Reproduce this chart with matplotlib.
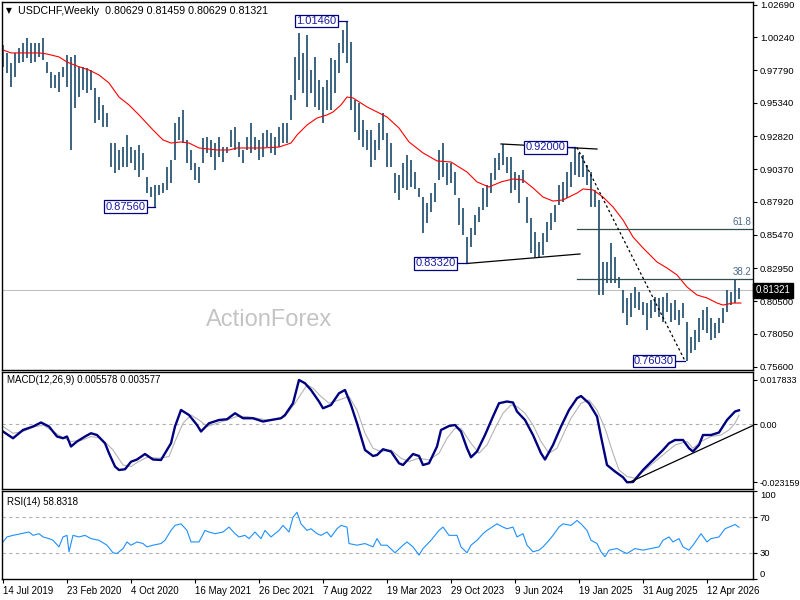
import numpy as np
import matplotlib
matplotlib.use("Agg")
import matplotlib.pyplot as plt
import matplotlib.transforms as mtransforms

plt.rcParams['font.family'] = ['Liberation Sans', 'DejaVu Sans']

# weekly bars, one every two weeks of the axis
bar_week = list(range(0, 370, 2))
highs = [
    0.9966, 0.9907, 0.9832, 0.9907, 0.9944, 0.9981, 1.0019, 0.9981, 0.9981, 0.9981,
    1.0019, 0.9839, 0.9764, 0.9742, 0.9764, 0.9802, 0.9892, 0.9877, 0.9892, 0.9802,
    0.9802, 0.9794, 0.9779, 0.9645, 0.9577, 0.9518, 0.9458, 0.9233, 0.9233, 0.9181,
    0.9203, 0.9293, 0.9203, 0.9181, 0.9218, 0.9159, 0.8979, 0.8904, 0.8919, 0.8919,
    0.8934, 0.9054, 0.9106, 0.9383, 0.9428, 0.9480, 0.9256, 0.9181, 0.9084, 0.9054,
    0.9271, 0.9278, 0.9256, 0.9233, 0.9278, 0.9203, 0.9203, 0.9331, 0.9353, 0.9241,
    0.9181, 0.9278, 0.9383, 0.9278, 0.9256, 0.9308, 0.9331, 0.9308, 0.9278, 0.9353,
    0.9383, 0.9383, 0.9592, 0.9877, 1.0056, 0.9907, 1.0041, 0.9779, 0.9877, 0.9705,
    0.9652, 0.9705, 0.9869, 0.9854, 0.9981, 1.0079, 1.0146, 0.9989, 0.9555, 0.9533,
    0.9405, 0.9331, 0.9331, 0.9256, 0.9383, 0.9458, 0.9308, 0.9233, 0.9009, 0.8994,
    0.9084, 0.9144, 0.9106, 0.9016, 0.8897, 0.8829, 0.8785, 0.8859, 0.8934, 0.9181,
    0.9233, 0.9084, 0.9084, 0.9016, 0.8822, 0.8747, 0.8530, 0.8598, 0.8695, 0.8755,
    0.8897, 0.8919, 0.9009, 0.9121, 0.9159, 0.9226, 0.9129, 0.9129, 0.9016, 0.8994,
    0.9031, 0.8829, 0.8672, 0.8568, 0.8493, 0.8560, 0.8642, 0.8710, 0.8770, 0.8919,
    0.8942, 0.9016, 0.9091, 0.9200, 0.9159, 0.9144, 0.9069,
    0.9016, 0.8882, 0.8807, 0.8343, 0.8343, 0.8485, 0.8381, 0.8231, 0.8134, 0.8074,
    0.8111, 0.8156, 0.8119, 0.8044, 0.8037, 0.8059, 0.8081, 0.8074, 0.8081, 0.8111,
    0.8037, 0.8059, 0.7984, 0.8037, 0.7894, 0.7782, 0.7835, 0.7924, 0.7984, 0.8007,
    0.7924, 0.7887, 0.7924, 0.7999, 0.8134, 0.8119, 0.8208, 0.81459,
]
lows = [
    0.9802, 0.9757, 0.9652, 0.9727, 0.9832, 0.9839, 0.9869, 0.9832, 0.9839, 0.9877,
    0.9854, 0.9757, 0.9645, 0.9645, 0.9615, 0.9727, 0.9652, 0.9181, 0.9495, 0.9577,
    0.9630, 0.9607, 0.9630, 0.9383, 0.9405, 0.9353, 0.9353, 0.9054, 0.9009, 0.9031,
    0.9054, 0.9054, 0.9084, 0.9031, 0.8979, 0.9031, 0.8859, 0.8829, 0.8756, 0.8844,
    0.8859, 0.8882, 0.8934, 0.9106, 0.9256, 0.9233, 0.9084, 0.9031, 0.8957, 0.8934,
    0.9084, 0.9159, 0.9129, 0.9031, 0.9129, 0.9091, 0.9159, 0.9203, 0.9181, 0.9129,
    0.9084, 0.9181, 0.9159, 0.9181, 0.9106, 0.9129, 0.9203, 0.9159, 0.9144, 0.9203,
    0.9233, 0.9233, 0.9405, 0.9555, 0.9705, 0.9607, 0.9503, 0.9607, 0.9503, 0.9480,
    0.9383, 0.9480, 0.9480, 0.9607, 0.9757, 0.9907, 0.9832, 0.9480, 0.9316, 0.9256,
    0.9203, 0.9181, 0.9054, 0.9106, 0.9181, 0.9256, 0.9054, 0.9054, 0.8859, 0.8807,
    0.8897, 0.8882, 0.8904, 0.8889, 0.8829, 0.8560, 0.8635, 0.8717, 0.8792, 0.8957,
    0.8979, 0.8919, 0.8934, 0.8844, 0.8620, 0.8545, 0.8332, 0.8455, 0.8545, 0.8642,
    0.8732, 0.8755, 0.8859, 0.8957, 0.9031, 0.9069, 0.9009, 0.8859, 0.8882, 0.8785,
    0.8934, 0.8635, 0.8411, 0.8381, 0.8373, 0.8396, 0.8493, 0.8583, 0.8642, 0.8770,
    0.8792, 0.8822, 0.8904, 0.8994, 0.8979, 0.8979, 0.8919,
    0.8755, 0.8755, 0.8096, 0.8096, 0.8186, 0.8186, 0.8186, 0.8149, 0.7962, 0.7872,
    0.7932, 0.7999, 0.7984, 0.7947, 0.7835, 0.7924, 0.7969, 0.7932, 0.7894, 0.7969,
    0.7894, 0.7909, 0.7872, 0.7924, 0.7603, 0.7663, 0.7685, 0.7745, 0.7835, 0.7812,
    0.7760, 0.7775, 0.7812, 0.7887, 0.7969, 0.8022, 0.8037, 0.80629,
]
last_close = 0.81321

# red moving average
ma_week = [0, 4, 18, 22, 28, 32, 37, 43, 48, 53, 58, 63, 68, 75, 80, 84, 89, 93, 98,
           107, 113, 117, 130, 138, 144, 147, 152, 157, 162, 165, 169, 172, 175, 182,
           188, 192, 198, 203, 210, 217, 224, 232, 237, 243, 249, 255, 260, 265, 270,
           275, 280, 287, 290, 295, 300, 305, 310, 315, 320, 327, 332, 337, 342, 347,
           352, 357, 360, 365, 369]
ma_vals = [0.9929, 0.9907, 0.9907, 0.9899, 0.9877, 0.9839, 0.9809, 0.9779, 0.9742,
           0.9682, 0.9577, 0.9518, 0.9443, 0.9331, 0.9256, 0.9233, 0.9241, 0.9233,
           0.9196, 0.9181, 0.9181, 0.9196, 0.9196, 0.9203, 0.9233, 0.9293, 0.9368,
           0.9420, 0.9443, 0.9465, 0.9518, 0.9577, 0.9570, 0.9503, 0.9458, 0.9428,
           0.9345, 0.9241, 0.9159, 0.9099, 0.9091, 0.9016, 0.8942, 0.8904, 0.8942,
           0.8964, 0.8957, 0.8897, 0.8829, 0.8799, 0.8807, 0.8859, 0.8889, 0.8882,
           0.8829, 0.8755, 0.8657, 0.8530, 0.8448, 0.8343, 0.8298, 0.8246, 0.8156,
           0.8096, 0.8074, 0.8036, 0.8021, 0.8036, 0.8036]

# MACD(12,26,9)
macd_week = [0, 5, 10, 15, 19, 23, 27, 30, 32, 34, 37, 41, 44, 47, 51, 53, 56, 58, 61,
             64, 67, 71, 75, 79, 81, 84, 86, 89, 93, 97, 99, 103, 108, 112, 116, 120,
             125, 130, 134, 139, 141, 145, 148, 151, 154, 158, 160, 164, 168, 171, 174,
             177, 181, 185, 187, 190, 194, 198, 200, 205, 208, 210, 213, 217, 219, 223,
             226, 229, 232, 234, 237, 241, 245, 248, 252, 255, 257, 261, 265, 269, 271,
             275, 279, 283, 287, 289, 293, 297, 299, 302, 306, 310, 312, 315, 320, 325,
             330, 333, 336, 340, 343, 345, 348, 350, 354, 358, 362, 366, 368]
macd_main = [-0.0029, -0.0056, -0.0023, -0.0009, 0.0007, -0.0009, -0.0049, -0.0056,
             -0.0049, -0.0089, -0.0069, -0.0049, -0.0036, -0.0043, -0.0076, -0.0116,
             -0.0169, -0.0183, -0.0180, -0.0150, -0.0141, -0.0119, -0.0141, -0.0143,
             -0.0116, -0.0076, -0.0009, 0.0057, 0.0037, -0.0003, -0.0029, 0.0004,
             0.0017, 0.0020, 0.0044, 0.0024, 0.0024, 0.0011, 0.0017, 0.0024, 0.0037,
             0.0084, 0.0177, 0.0164, 0.0137, 0.0091, 0.0064, 0.0077, 0.0124, 0.0137,
             0.0077, 0.0004, -0.0103, -0.0127, -0.0123, -0.0100, -0.0109, -0.0156,
             -0.0163, -0.0119, -0.0127, -0.0163, -0.0156, -0.0089, -0.0023, -0.0007,
             -0.0003, -0.0029, -0.0096, -0.0132, -0.0109, -0.0043, 0.0031, 0.0084,
             0.0091, 0.0087, 0.0051, 0.0017, -0.0043, -0.0116, -0.0141, -0.0083,
             -0.0009, 0.0057, 0.0104, 0.0113, 0.0084, 0.0031, -0.0049, -0.0163,
             -0.0189, -0.0212, -0.0232, -0.0231, -0.0183, -0.0143, -0.0103, -0.0076,
             -0.0063, -0.0063, -0.0096, -0.0109, -0.0083, -0.0043, -0.0043, -0.0033,
             0.0017, 0.0051, 0.005578]
sig_week = [0, 5, 10, 15, 20, 24, 29, 34, 39, 44, 49, 55, 60, 64, 67, 72, 78, 83, 86,
            90, 94, 98, 102, 107, 112, 117, 122, 127, 132, 137, 141, 146, 152, 155,
            159, 163, 168, 173, 177, 181, 185, 189, 194, 199, 203, 208, 213, 218, 222,
            226, 229, 234, 238, 242, 246, 250, 254, 257, 261, 265, 269, 273, 277, 280,
            284, 289, 293, 297, 301, 305, 308, 312, 316, 321, 326, 331, 336, 342, 345,
            349, 354, 359, 363, 366, 368]
macd_signal = [-0.0009, -0.0036, -0.0029, -0.0012, -0.0003, -0.0023, -0.0049, -0.0069,
               -0.0065, -0.0049, -0.0056, -0.0103, -0.0163, -0.0169, -0.0153, -0.0132,
               -0.0136, -0.0129, -0.0069, 0.0004, 0.0037, 0.0017, -0.0009, 0.0004,
               0.0017, 0.0031, 0.0031, 0.0024, 0.0017, 0.0020, 0.0031, 0.0084, 0.0157,
               0.0144, 0.0111, 0.0084, 0.0097, 0.0111, 0.0057, -0.0036, -0.0096,
               -0.0109, -0.0103, -0.0136, -0.0149, -0.0136, -0.0143, -0.0116, -0.0056,
               -0.0016, -0.0016, -0.0076, -0.0116, -0.0083, -0.0016, 0.0044, 0.0077,
               0.0071, 0.0044, -0.0003, -0.0069, -0.0116, -0.0096, -0.0043, 0.0024,
               0.0084, 0.0097, 0.0057, -0.0016, -0.0116, -0.0183, -0.0209, -0.0216,
               -0.0183, -0.0149, -0.0116, -0.0083, -0.0069, -0.0096, -0.0069, -0.0049,
               -0.0043, -0.0023, 0.0004, 0.003577]

# RSI(14)
rsi_week = [0, 2, 5, 9, 13, 15, 18, 20, 23, 25, 28, 30, 32, 33, 35, 38, 41, 44, 48, 52,
            55, 57, 60, 62, 64, 67, 70, 72, 75, 79, 81, 84, 86, 89, 92, 94, 98, 101,
            103, 106, 110, 113, 116, 118, 121, 123, 126, 129, 131, 134, 138, 140, 143,
            145, 147, 149, 152, 154, 157, 159, 162, 164, 167, 169, 172, 173, 177, 181,
            185, 187, 189, 192, 196, 200, 202, 205, 208, 210, 214, 218, 220, 223, 227,
            229, 232, 234, 237, 240, 242, 245, 247, 250, 252, 255, 257, 260, 262, 265,
            268, 270, 273, 275, 278, 280, 284, 287, 289, 292, 294, 297, 299, 301, 303,
            307, 310, 312, 316, 320, 324, 328, 330, 333, 335, 338, 340, 343, 345, 349,
            352, 354, 358, 361, 365, 366, 368]
rsi_vals = [42.1, 47.8, 49.6, 51.5, 53.4, 49.6, 51.5, 47.8, 45.9, 44.0, 36.5, 47.8, 49.6,
            30.9, 49.6, 47.8, 49.6, 45.9, 44.0, 38.4, 29.8, 29.0, 34.6, 42.1, 38.4, 42.1,
            40.3, 36.5, 38.4, 40.3, 44.0, 55.2, 60.9, 62.7, 55.2, 42.1, 42.1, 55.2, 53.4,
            51.5, 53.4, 59.0, 51.5, 47.8, 49.6, 45.9, 53.4, 45.9, 55.2, 47.8, 55.2, 60.9,
            53.4, 70.2, 75.8, 62.7, 55.2, 57.1, 51.5, 49.6, 53.4, 47.8, 57.1, 60.9, 59.0,
            40.3, 38.4, 40.3, 36.5, 45.9, 38.4, 38.4, 29.8, 38.4, 42.1, 36.5, 27.2, 34.6,
            44.0, 55.2, 59.0, 49.6, 49.6, 36.5, 29.8, 38.4, 44.0, 51.5, 55.2, 59.7, 62.7,
            59.0, 57.1, 59.0, 47.8, 51.5, 38.4, 30.9, 32.8, 36.5, 44.0, 49.6, 59.0, 62.7,
            60.9, 66.5, 62.7, 55.2, 44.0, 40.3, 30.9, 25.3, 32.8, 34.6, 30.9, 29.0, 34.6,
            32.8, 34.6, 36.5, 44.0, 47.8, 42.1, 45.9, 36.5, 32.8, 38.4, 51.5, 42.1, 45.9,
            47.8, 57.1, 60.9, 62.0, 58.8]

date_week = [0, 32, 64, 96, 128, 160, 192, 224, 256, 288, 320, 352]
date_labels = ['14 Jul 2019', '23 Feb 2020', '4 Oct 2020', '16 May 2021', '26 Dec 2021',
               '7 Aug 2022', '19 Mar 2023', '29 Oct 2023', '9 Jun 2024', '19 Jan 2025',
               '31 Aug 2025', '12 Apr 2026']
price_ticks = [1.0269, 1.0024, 0.9779, 0.9534, 0.9282, 0.9037, 0.8792, 0.8547,
               0.8295, 0.8050, 0.7805, 0.7560]
fib_levels = [0.8590, 0.8213]
fib_names = ['61.8', '38.2']

W, H = 800, 600
fig = plt.figure(figsize=(8, 6), dpi=100)
fig.patch.set_facecolor('white')


def box(top, bottom):
    return [2 / W, 1 - bottom / H, 751 / W, (bottom - top) / H]


ax = fig.add_axes(box(2, 370))
ax_m = fig.add_axes(box(372, 489), sharex=ax)
ax_r = fig.add_axes(box(491, 579), sharex=ax)

bar_col = '#1b4a6b'
for a in (ax, ax_m, ax_r):
    for s in a.spines.values():
        s.set_color('black')
        s.set_linewidth(1)
    a.yaxis.tick_right()
    a.tick_params(axis='y', which='both', length=3, pad=2, labelsize=6.8, colors='black')
    a.tick_params(axis='x', which='both', bottom=False, labelbottom=False)

# ---- price panel
ax.set_xlim(-0.5, 375)
ax.set_ylim(0.7535, 1.0288)
ax.vlines(bar_week, lows, highs, color=bar_col, linewidth=1.2)
ax.plot(ma_week, ma_vals, color='red', linewidth=0.8)
ax.axhline(last_close, color='#c0c0c0', linewidth=0.8, zorder=0)
for lv, nm in zip(fib_levels, fib_names):
    ax.plot([287, 375], [lv, lv], color='#2f4f4f', linewidth=0.9)
    ax.text(374, lv + 0.0018, nm, ha='right', va='bottom', fontsize=7, color='#4a6a8a')
ax.plot([249, 297], [0.9226, 0.9188], color='black', linewidth=0.9)
ax.plot([232, 288.5], [0.8332, 0.8403], color='black', linewidth=0.9)
ax.plot([287, 341], [0.9200, 0.7603], color='black', linewidth=0.9, linestyle=(0, (2, 2)))
ax.set_yticks(price_ticks)
ax.set_yticklabels(['%.5f' % v for v in price_ticks])

for txt, bx, by, wk in [('1.01460', 166.8, 1.0146, 172), ('0.87560', 71.3, 0.8756, 76),
                        ('0.83320', 226.3, 0.8332, 232), ('0.92000', 281.3, 0.9200, 286),
                        ('0.76030', 335.5, 0.7603, 341)]:
    ax.plot([bx, wk], [by, by], color='#000080', linewidth=0.9)
    ax.text(bx, by, txt, ha='right', va='center', fontsize=8, color='#1a1aa0',
            bbox=dict(boxstyle='square,pad=0.12', fc='white', ec='#000080', lw=0.9))

ax.text(0.355, 0.135, 'ActionForex', transform=ax.transAxes, ha='center', va='center',
        fontsize=17, color='#c4c4c4')

fig.text(6 / W, 1 - 10.5 / H, '\u25bc', fontsize=5.5, va='center', ha='left',
         family=['DejaVu Sans'])
fig.text(18 / W, 1 - 10.5 / H, 'USDCHF,Weekly  0.80629 0.81459 0.80629 0.81321',
         fontsize=7.7, va='center', ha='left')

trans = mtransforms.blended_transform_factory(ax.transAxes, ax.transData)
ax.text(1.003, last_close, '0.81321', transform=trans, ha='left', va='center',
        fontsize=7, color='white', clip_on=False,
        bbox=dict(boxstyle='square,pad=0.25', fc='black', ec='black'))

# ---- MACD panel
ax_m.set_ylim(-0.0259, 0.0209)
ax_m.axhline(0, color='#b0b0b0', linewidth=0.8, linestyle=(0, (3, 3)))
ax_m.plot(sig_week, macd_signal, color='#b4b4b4', linewidth=0.8)
ax_m.plot(macd_week, macd_main, color='#000080', linewidth=1.7)
ax_m.plot([313, 375], [-0.0233, -0.0005], color='black', linewidth=0.9)
ax_m.set_yticks([0.017833, 0.0, -0.023159])
ax_m.set_yticklabels(['0.017833', '0.00', '-0.023159'])
ax_m.tick_params(axis='y', labelsize=6.5, pad=1.5)
ax_m.text(0.006, 0.93, 'MACD(12,26,9) 0.005578 0.003577', transform=ax_m.transAxes,
          fontsize=7, va='center', ha='left')

# ---- RSI panel
ax_r.set_ylim(0, 100)
for lv in (70, 30):
    ax_r.axhline(lv, color='#b0b0b0', linewidth=0.8, linestyle=(0, (3, 3)))
ax_r.plot(rsi_week, rsi_vals, color='#1e90ff', linewidth=0.8)
ax_r.set_yticks([100, 70, 30, 0])
ax_r.set_yticklabels(['100', '70', '30', '0'])
labs = ax_r.get_yticklabels()
labs[0].set_va('top')
labs[3].set_va('bottom')
ax_r.text(0.006, 0.87, 'RSI(14) 58.8318', transform=ax_r.transAxes,
          fontsize=7, va='center', ha='left')
ax_r.set_xticks(date_week)
ax_r.set_xticklabels(date_labels)
ax_r.tick_params(axis='x', bottom=True, labelbottom=True, length=3, labelsize=7, pad=2)
for lab in ax_r.get_xticklabels():
    lab.set_ha('left')

fig.savefig('out.png', dpi=100)
